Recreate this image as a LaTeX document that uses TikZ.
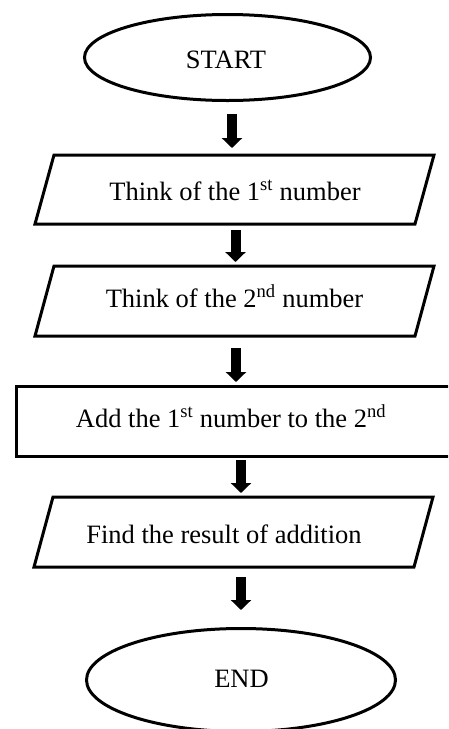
\documentclass[tikz,border=0pt]{standalone}
\usepackage{fontspec}
\setmainfont{Liberation Serif}
\usetikzlibrary{shapes.geometric,arrows.meta}
\begin{document}
\begin{tikzpicture}[x=1pt,y=-1pt,
  shp/.style={line width=3pt, outer sep=0pt, inner sep=0pt},
  term/.style={shp, draw, ellipse},
  frame/.style={shp, draw=none, rectangle},
  boxframe/.style={shp, draw, rectangle},
  lbl/.style={anchor=base, inner sep=0pt, font=\fontsize{26.5}{30}\selectfont},
  blk/.style={line width=10pt, -{Triangle[width=20pt,length=10pt]}},
  outline/.style={line width=3pt, line join=miter}
]
\useasboundingbox (0,0) rectangle (448,729);
\clip (0,0) rectangle (448,729);
% shapes
\node[term, minimum width=286pt, minimum height=86pt] (start) at (227.5,57.5) {};
\node[frame, minimum width=399pt, minimum height=69pt] (p1) at (234.5,189.5) {};
\node[frame, minimum width=399pt, minimum height=70pt] (p2) at (234.5,301) {};
\node[boxframe, minimum width=443.5pt, minimum height=70pt] (rect) at (238.25,421.5) {};
\node[frame, minimum width=399pt, minimum height=70pt] (p3) at (233.5,532) {};
\node[term, minimum width=309pt, minimum height=103pt] (end) at (241,680) {};
\foreach \p in {p1,p2,p3}{
  \draw[outline] ([xshift=19pt]\p.north west) -- (\p.north east) -- ([xshift=-19pt]\p.south east) -- (\p.south west) -- cycle;
}
% labels
\node[lbl] (tstart) at (226,68) {START};
\node[lbl] (t1) at (235,200) {Think of the 1\textsuperscript{st} number};
\node[lbl] (t2) at (234.5,307) {Think of the 2\textsuperscript{nd} number};
\node[lbl] (t3) at (231,427) {Add the 1\textsuperscript{st} number to the 2\textsuperscript{nd}};
\node[lbl] (t4) at (224,543) {Find the result of addition};
\node[lbl] (tend) at (241.5,687) {END};
% arrows
\draw[blk, shorten <=13.5pt, shorten >=7pt] ([xshift=4.5pt]start.south) -- ([xshift=-2.5pt]p1.north);
\draw[blk, shorten <=6pt, shorten >=4pt] ([xshift=1pt]p1.south) -- ([xshift=1pt]p2.north);
\draw[blk, shorten <=12pt, shorten >=4.5pt] ([xshift=1.5pt]p2.south) -- ([xshift=-2.25pt]rect.north);
\draw[blk, shorten <=3.5pt, shorten >=4pt] ([xshift=2.75pt]rect.south) -- ([xshift=7.5pt]p3.north);
\draw[blk, shorten <=10pt, shorten >=18.5pt] ([xshift=7.5pt]p3.south) -- (end.north);
\end{tikzpicture}
\end{document}
